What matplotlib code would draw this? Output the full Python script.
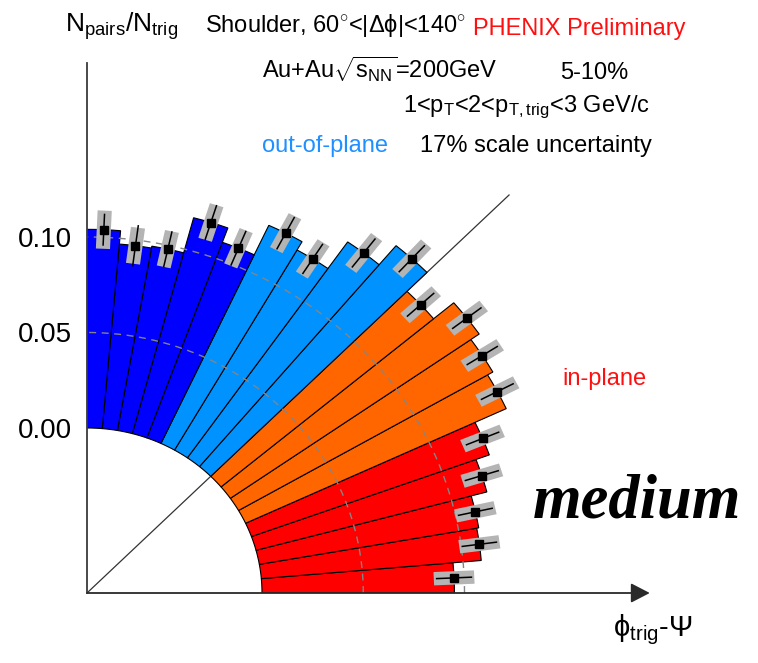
import numpy as np
import matplotlib
matplotlib.use("Agg")
import matplotlib.pyplot as plt
from matplotlib.patches import Wedge, Polygon

plt.rcParams['font.family'] = ['Liberation Sans', 'DejaVu Sans']
plt.rcParams['mathtext.fontset'] = 'custom'
plt.rcParams['mathtext.rm'] = 'Liberation Sans'
plt.rcParams['mathtext.it'] = 'Liberation Sans:italic'
plt.rcParams['mathtext.bf'] = 'Liberation Sans:bold'
plt.rcParams['mathtext.sf'] = 'Liberation Sans'

# Trigger angle relative to the event plane (bin centres, degrees)
phi_centers = [2.5, 7.5, 12.5, 17.5, 22.5, 27.5, 32.5, 37.5, 42.5,
               47.5, 52.5, 57.5, 62.5, 67.5, 72.5, 77.5, 82.5, 87.5]
bin_width = 5.0
# Shoulder yield per trigger
pairs_per_trig = [0.095, 0.109, 0.110, 0.118, 0.125, 0.142, 0.145, 0.150, 0.137,
                  0.151, 0.138, 0.121, 0.126, 0.109, 0.117, 0.098, 0.097, 0.104]
stat_err = [0.0086, 0.0085, 0.0085, 0.0085, 0.0086, 0.0088, 0.0088, 0.0088, 0.0088,
            0.0092, 0.0092, 0.0090, 0.0092, 0.0095, 0.0092, 0.0092, 0.0105, 0.0080]
sys_err = [0.0100, 0.0100, 0.0100, 0.0100, 0.0105, 0.0105, 0.0105, 0.0105, 0.0105,
           0.0105, 0.0105, 0.0100, 0.0100, 0.0100, 0.0095, 0.0095, 0.0095, 0.0100]

# Angular regions: in-plane ... out-of-plane
region_edges = [0, 25, 45, 65, 90]
region_colors = ['#ff0000', '#ff6600', '#0093ff', '#0000ff']

tick_vals = [0.00, 0.05, 0.10]
tick_labels = ['0.00', '0.05', '0.10']
grid_vals = [0.05, 0.10]

r0 = 0.0864          # radius at which the yield is zero
x_max, y_max = 0.2765, 0.2775

W, H = 758, 663
fig = plt.figure(figsize=(W / 100, H / 100), dpi=100)
ax = fig.add_axes([87 / W, 70 / H, 560 / W, 530 / H])
ax.set_xlim(0, x_max)
ax.set_ylim(0, y_max)


def region_color(phi):
    for lo, hi, col in zip(region_edges[:-1], region_edges[1:], region_colors):
        if lo <= phi < hi:
            return col
    return region_colors[-1]


# 45 degree guide line
diag_r = 0.2947
ax.plot([0, diag_r * np.cos(np.pi / 4)], [0, diag_r * np.sin(np.pi / 4)],
        color='#333333', lw=0.9, zorder=0.5)

# Radial bars
for phi, v in zip(phi_centers, pairs_per_trig):
    ax.add_patch(Wedge((0, 0), r0 + v, phi - bin_width / 2, phi + bin_width / 2,
                       width=v, facecolor=region_color(phi), edgecolor='black',
                       lw=0.8, zorder=1))

# Dashed reference circles
th = np.linspace(0, np.pi / 2, 300)
for g in grid_vals:
    ax.plot((r0 + g) * np.cos(th), (r0 + g) * np.sin(th), color='#858585',
            lw=1.0, dashes=(5, 4), zorder=2)

# Error boxes, error bars and points
box_w = 0.0070
for phi, v, es, ss in zip(phi_centers, pairs_per_trig, stat_err, sys_err):
    t = np.deg2rad(phi)
    u = np.array([np.cos(t), np.sin(t)])
    n = np.array([-np.sin(t), np.cos(t)])
    r = r0 + v
    corners = [(r - ss) * u - box_w / 2 * n, (r + ss) * u - box_w / 2 * n,
               (r + ss) * u + box_w / 2 * n, (r - ss) * u + box_w / 2 * n]
    ax.add_patch(Polygon(corners, closed=True, facecolor='#b4b4b4',
                         edgecolor='none', zorder=3))
    ax.plot([(r - es) * u[0], (r + es) * u[0]], [(r - es) * u[1], (r + es) * u[1]],
            color='black', lw=1.1, zorder=4)
    ax.plot(r * u[0], r * u[1], 's', color='black', ms=6, zorder=5)

# Axes
for side in ['top', 'right', 'bottom']:
    ax.spines[side].set_visible(False)
ax.spines['left'].set_color('#3a3a3a')
ax.spines['left'].set_linewidth(1.3)
ax.annotate('', xy=(1.005, 0), xytext=(0, 0), xycoords='axes fraction',
            arrowprops=dict(arrowstyle='-|>,head_length=0.58,head_width=0.3',
                            mutation_scale=20, color='#2a2a2a', lw=1.3,
                            shrinkA=0, shrinkB=0),
            annotation_clip=False)
ax.set_xticks([])
ax.set_yticks([r0 + t for t in tick_vals])
ax.set_yticklabels(tick_labels, fontsize=20)
ax.tick_params(axis='y', length=0, pad=11)


def ftext(x, y, s, **kw):
    fig.text(x / W, 1 - y / H, s, va='baseline', ha='left', **kw)


ftext(65, 32, r'N$_{\rm pairs}$/N$_{\rm trig}$', fontsize=19)
ftext(205, 32, r'Shoulder, 60$^{\circ}$<|Δϕ|<140$^{\circ}$', fontsize=17)
ftext(473, 35, 'PHENIX Preliminary', fontsize=17, color='#ff1010')
ftext(262, 78, r'Au+Au$\sqrt{\mathrm{s}_{\rm NN}}$=200GeV', fontsize=17)
ftext(560, 79, '5-10%', fontsize=17)
ftext(403, 112, r'1<p$_{\rm T}$<2<p$_{\rm T,trig}$<3 GeV/c', fontsize=17)
ftext(262, 152, 'out-of-plane', fontsize=17, color='#1e90ff')
ftext(420, 152, '17% scale uncertainty', fontsize=17)
ftext(562, 385, 'in-plane', fontsize=17, color='#ff1010')
ftext(533, 518, 'medium', fontsize=45, family='Liberation Serif',
      weight='bold', style='italic')
ftext(613, 636, r'ϕ$_{\rm trig}$-Ψ', fontsize=21)

fig.savefig('out.png', dpi=100)
